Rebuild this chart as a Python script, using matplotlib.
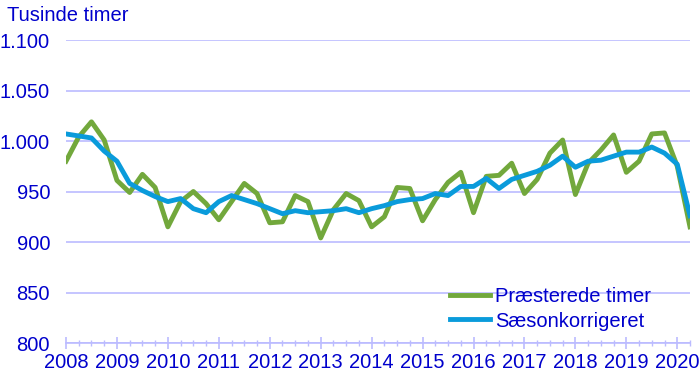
import numpy as np
import matplotlib
matplotlib.use("Agg")
import matplotlib.pyplot as plt
from matplotlib.ticker import FuncFormatter, MultipleLocator

years = [str(y) for y in range(2008, 2021)]
# quarterly values, 2008K1 - 2020K2 (tusinde timer)
praesterede = [980, 1004, 1019, 1001, 961, 949, 967, 954, 915, 940,
               950, 938, 922, 940, 958, 948, 919, 920, 946, 940,
               904, 932, 948, 941, 915, 925, 954, 953, 921, 942,
               959, 969, 929, 965, 966, 978, 948, 962, 988, 1001,
               947, 978, 991, 1006, 969, 980, 1007, 1008, 975, 915]
saesonkorr = [1007, 1005, 1003, 990, 980, 958, 951, 945, 940, 943,
              933, 929, 940, 946, 942, 938, 933, 928, 931, 929,
              930, 931, 933, 929, 933, 936, 940, 942, 943, 948,
              946, 955, 955, 963, 953, 962, 966, 970, 976, 985,
              974, 980, 981, 985, 989, 989, 994, 988, 977, 926]
labels = ["Præsterede timer", "Sæsonkorrigeret"]

text_col = "#0000CC"
grid_col = "#BBBBFF"
fs = 14.5
plt.rcParams["font.family"] = ["Liberation Sans", "DejaVu Sans"]
plt.rcParams["font.size"] = fs

fig = plt.figure(figsize=(7, 3.77), dpi=100)
ax = fig.add_axes([66 / 700, 1 - 343 / 377, 624 / 700, 303 / 377])

x = np.arange(len(praesterede))
ax.plot(x, praesterede, color="#72A83C", lw=3.5, label=labels[0])
ax.plot(x, saesonkorr, color="#0A9BDB", lw=3.5, label=labels[1])

ax.set_xlim(0, len(x) - 1)
ax.set_ylim(800, 1100)
ax.set_yticks(range(800, 1101, 50))
ax.yaxis.set_major_formatter(FuncFormatter(lambda v, p: f"{int(v):,}".replace(",", ".")))
ax.set_xticks(range(0, len(x), 4))
ax.set_xticklabels(years)
ax.xaxis.set_minor_locator(MultipleLocator(1))

ax.grid(axis="y", color=grid_col, lw=1.2)
ax.set_axisbelow(True)
for s in ["top", "right", "left"]:
    ax.spines[s].set_visible(False)
ax.spines["bottom"].set_color(grid_col)
ax.spines["bottom"].set_linewidth(1.2)
ax.tick_params(axis="y", length=0, pad=11.5, labelcolor=text_col)
ax.tick_params(axis="x", which="major", direction="inout", length=8, color=grid_col,
               width=1.2, pad=3, labelcolor=text_col)
ax.tick_params(axis="x", which="minor", direction="inout", length=5, color=grid_col, width=1)

fig.text(7 / 700, 1 - 21 / 377, "Tusinde timer", color=text_col, fontsize=fs, va="baseline")

leg = ax.legend(loc="center left", bbox_to_anchor=(450 / 700, 1 - 309 / 377),
                bbox_transform=fig.transFigure, frameon=False, borderpad=0,
                borderaxespad=0, handlelength=2.0, handletextpad=0.25,
                labelspacing=0.25)
for t in leg.get_texts():
    t.set_color(text_col)

fig.savefig("out.png", dpi=100)
